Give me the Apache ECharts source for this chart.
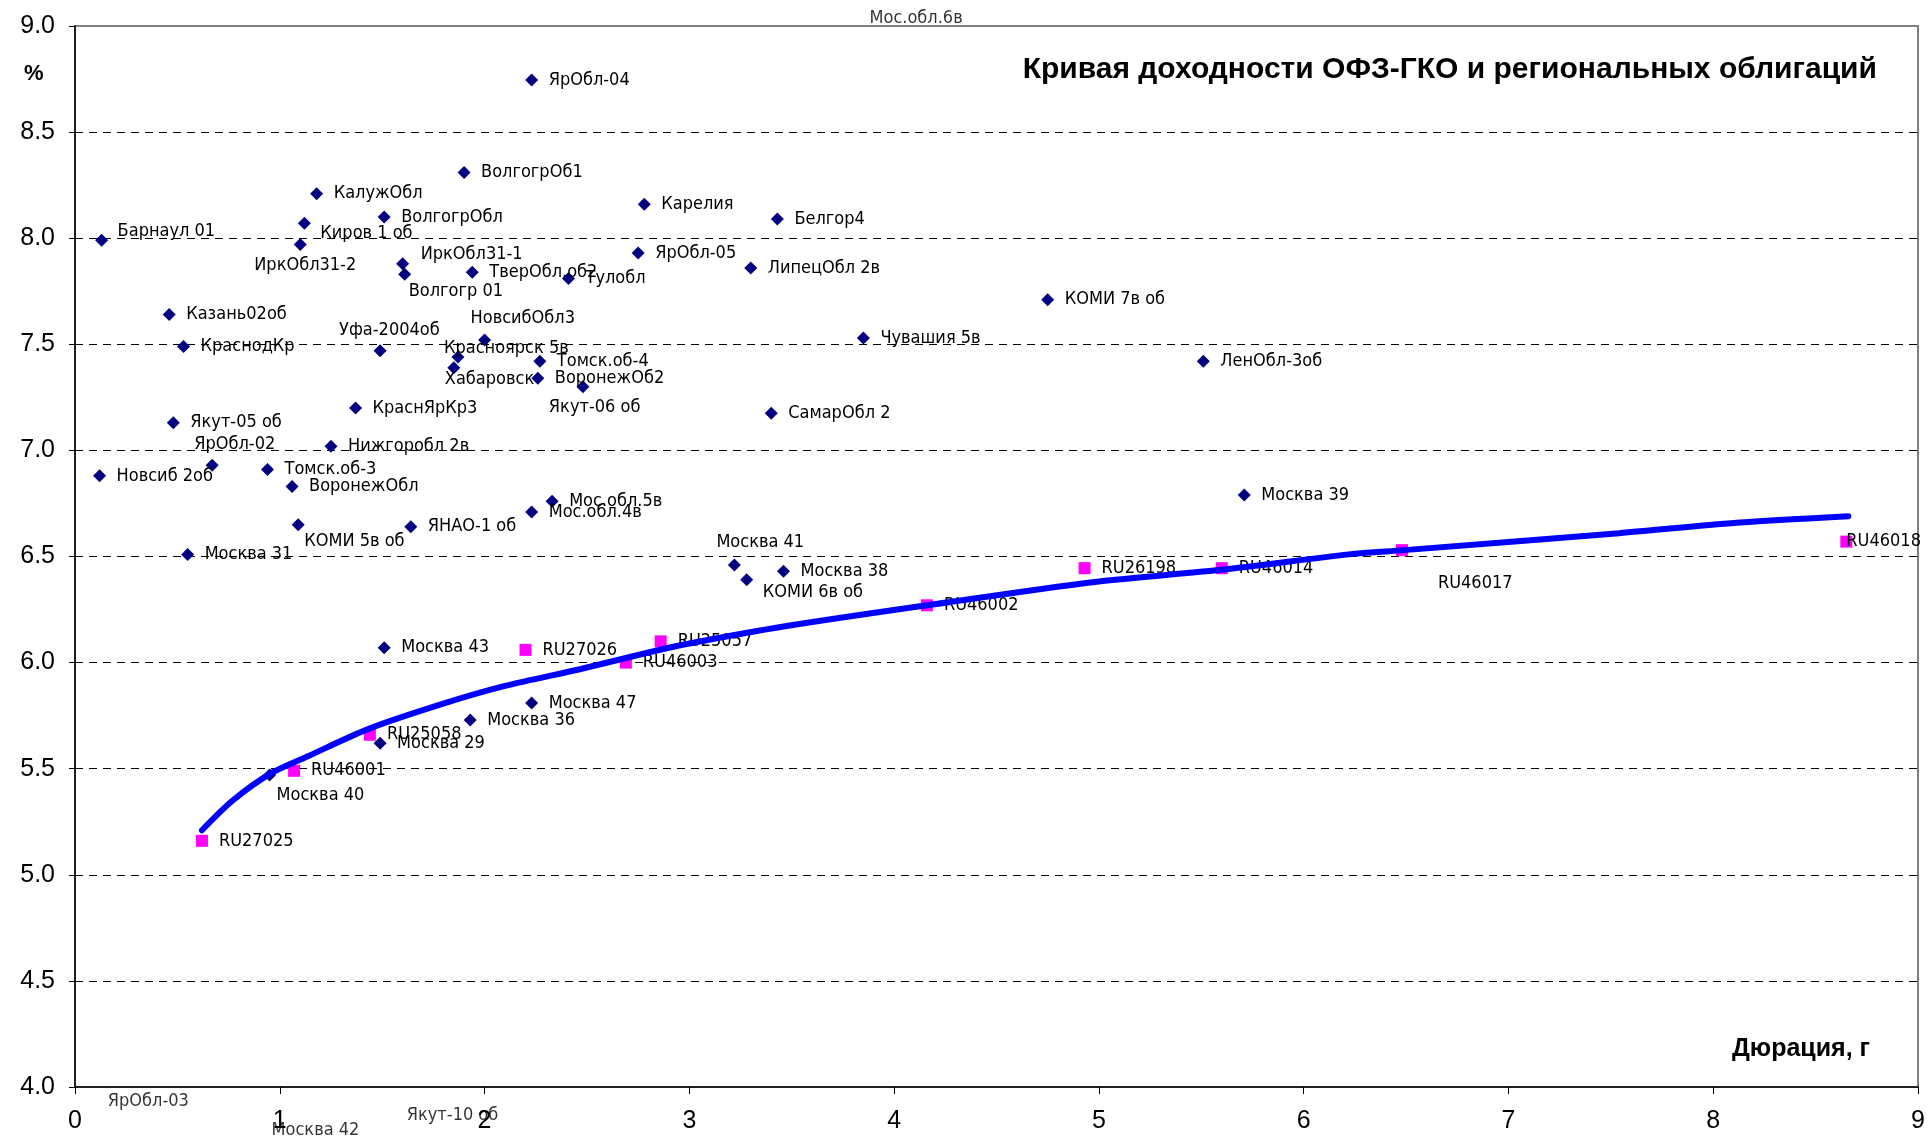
<!DOCTYPE html>
<html><head><meta charset="utf-8">
<script src="https://cdn.jsdelivr.net/npm/echarts@6/dist/echarts.min.js"></script>
<style>html,body{margin:0;padding:0;background:#fff}#c{width:1928px;height:1138px}</style>
</head><body><div id="c"></div>
<script>
// ---- Regional bonds (duration, yield %) ----
const regNames = ['Барнаул 01','ЯрОбл-04','ВолгогрОб1','КалужОбл','ВолгогрОбл','Киров 1 об','ИркОбл31-2','ИркОбл31-1','Волгогр 01','ТверОбл.об2','Тулобл','Карелия','ЯрОбл-05','Белгор4','ЛипецОбл 2в','КОМИ 7в об','Чувашия 5в','ЛенОбл-3об','Казань02об','КраснодКр','Уфа-2004об','НовсибОбл3','Красноярск 5в','Хабаровск','Томск.об-4','ВоронежОб2','Якут-06 об','КраснЯрКр3','СамарОбл 2','Якут-05 об','Нижгоробл 2в','ЯрОбл-02','Новсиб 2об','Томск.об-3','ВоронежОбл','Мос.обл.5в','Мос.обл.4в','ЯНАО-1 об','КОМИ 5в об','Москва 39','Москва 31','Москва 41','Москва 38','КОМИ 6в об','Москва 43','Москва 47','Москва 36','Москва 29','Москва 40'];
const regDur   = [0.13,2.23,1.90,1.18,1.51,1.12,1.10,1.60,1.61,1.94,2.41,2.78,2.75,3.43,3.30,4.75,3.85,5.51,0.46,0.53,1.49,2.00,1.87,1.85,2.27,2.26,2.48,1.37,3.40,0.48,1.25,0.67,0.12,0.94,1.06,2.33,2.23,1.64,1.09,5.71,0.55,3.22,3.46,3.28,1.51,2.23,1.93,1.49,0.95];
const regYield = [7.99,8.745,8.31,8.21,8.10,8.07,7.97,7.88,7.83,7.84,7.81,8.16,7.93,8.09,7.86,7.71,7.53,7.42,7.64,7.49,7.47,7.52,7.44,7.39,7.42,7.34,7.30,7.20,7.175,7.13,7.02,6.93,6.88,6.91,6.83,6.76,6.71,6.64,6.65,6.79,6.51,6.46,6.43,6.39,6.07,5.81,5.73,5.62,5.47];

// ---- OFZ-GKO bonds ----
const ofzNames = ['RU27025','RU46001','RU25058','RU27026','RU46003','RU25057','RU46002','RU26198','RU46014','RU46017','RU46018'];
const ofzDur   = [0.62,1.07,1.44,2.20,2.69,2.86,4.16,4.93,5.60,6.48,8.65];
const ofzYield = [5.16,5.49,5.66,6.06,6.00,6.10,6.27,6.445,6.445,6.53,6.57];

// ---- OFZ yield curve ----
const curveDur   = [0.62,0.77,0.96,1.14,1.44,1.81,2.10,2.47,2.81,3.00,3.46,4.16,4.98,5.62,6.22,6.49,7.54,8.13,8.66];
const curveYield = [5.21,5.35,5.48,5.56,5.69,5.81,5.89,5.97,6.05,6.09,6.17,6.27,6.38,6.44,6.51,6.53,6.61,6.66,6.69];

// ---- Off-scale bonds (label only, pinned to axis edge) ----
const offNames = ['ЯрОбл-03','Москва 42','Якут-10 об','Мос.обл.6в'];
const offDur   = [0.16,0.96,1.62,3.88];
const offYield = [4.0,4.0,4.0,9.0];

// ---- Axis ticks ----
const xMin = 0, xMax = 9, xStep = 1;
const yMin = 4, yMax = 9, yStep = 0.5;

// label placement (pixel offsets of label's left edge / middle from the marker centre)
const defShift = [17, 0];
const labelShift = {
  'Барнаул 01':[16,-9],'Киров 1 об':[16,10],'ИркОбл31-2':[-46,21],'ИркОбл31-1':[18,-9],
  'Волгогр 01':[4,17],'Уфа-2004об':[-41,-20],'НовсибОбл3':[-14,-22],'Красноярск 5в':[-14,-9],
  'Хабаровск':[-9,12],'Якут-06 об':[-34,21],'ЯрОбл-02':[-18,-21],'КОМИ 5в об':[6,17],
  'Москва 41':[-18,-23],'КОМИ 6в об':[16,12],'Москва 40':[7,20],
  'RU46017':[36,33],'RU46018':[0,0],
  'ЯрОбл-03':[0,14],'Москва 42':[0,43],'Якут-10 об':[0,28],'Мос.обл.6в':[0,-8]
};
const lblFont = {fontFamily:'"DejaVu Sans Condensed","DejaVu Sans",Verdana,sans-serif', fontSize:18, color:'#000'};
function mk(names, xs, ys){
  return names.map((n,i)=>{
    const s = labelShift[n] || defShift;
    return {name:n, value:[xs[i], ys[i]],
      label:Object.assign({show:true, formatter:n, position:'inside', align:'left', verticalAlign:'middle', offset:s}, lblFont)};
  });
}

const chart = echarts.init(document.getElementById('c'), null, {renderer:'canvas'});
chart.setOption({
  animation:false,
  backgroundColor:'#fff',
  grid:{left:75, right:10, top:26, bottom:51, show:true, borderColor:'#808080', borderWidth:2, backgroundColor:'transparent'},
  title:{text:'Кривая доходности ОФЗ-ГКО и региональных облигаций', right:51, top:55, padding:0,
    textStyle:{fontFamily:'"Liberation Sans",Arial,sans-serif', fontWeight:'bold', fontSize:30, color:'#000'}},
  graphic:[
    {type:'text', left:24, top:63, style:{text:'%', font:'bold 22px "Liberation Sans", Arial, sans-serif', fill:'#000'}},
    {type:'text', right:58, top:1037, style:{text:'Дюрация, г', font:'bold 25px "Liberation Sans", Arial, sans-serif', fill:'#000'}}
  ],
  xAxis:{type:'value', min:xMin, max:xMax, interval:xStep,
    axisLine:{show:true, onZero:false, lineStyle:{color:'#000', width:1.5}},
    axisTick:{show:true, length:7, lineStyle:{color:'#000'}},
    axisLabel:{margin:22, fontSize:25, color:'#000', fontFamily:'"Liberation Sans",Arial,sans-serif'},
    splitLine:{show:false}},
  yAxis:{type:'value', min:yMin, max:yMax, interval:yStep,
    axisLine:{show:true, lineStyle:{color:'#000', width:1.5}},
    axisTick:{show:true, length:6, lineStyle:{color:'#000'}},
    axisLabel:{margin:20, fontSize:25, color:'#000', fontFamily:'"Liberation Sans",Arial,sans-serif', formatter:v=>v.toFixed(1)},
    splitLine:{show:true, showMinLine:false, showMaxLine:false, lineStyle:{color:'#000', width:1, type:[8,6]}}},
  series:[
    {name:'Региональные', type:'scatter', symbol:'diamond', symbolSize:13, itemStyle:{color:'#000080', opacity:1}, z:3,
      data:mk(regNames, regDur, regYield)},
    {name:'ОФЗ-ГКО', type:'scatter', symbol:'rect', symbolSize:12, itemStyle:{color:'#FF00FF', opacity:1}, z:3,
      data:mk(ofzNames, ofzDur, ofzYield)},
    {name:'Кривая', type:'line', smooth:0.3, showSymbol:false, symbol:'none', z:4,
      lineStyle:{color:'#0000FF', width:6, cap:'round'},
      data:curveDur.map((d,i)=>[d, curveYield[i]])},
    {name:'Вне шкалы', type:'scatter', symbolSize:0, clip:false, z:5,
      data:mk(offNames, offDur, offYield)}
  ]
});
</script></body></html>
